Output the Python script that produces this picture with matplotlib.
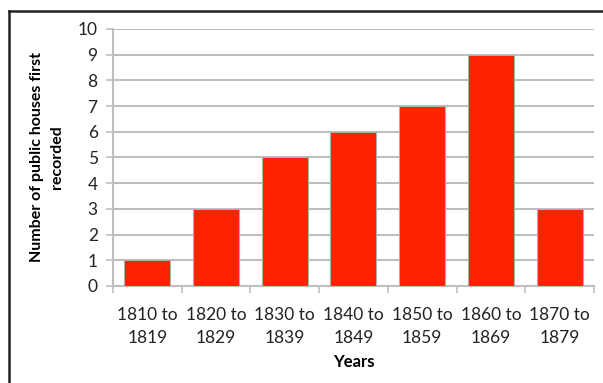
import matplotlib
matplotlib.use('Agg')
import matplotlib.pyplot as plt
import numpy as np

# decades and count of pubs first recorded in each
periods = ['1810 to\n1819', '1820 to\n1829', '1830 to\n1839', '1840 to\n1849',
           '1850 to\n1859', '1860 to\n1869', '1870 to\n1879']
counts = [1, 3, 5, 6, 7, 9, 3]
yticks = list(range(0, 11))

plt.rcParams['font.family'] = ['Lato', 'DejaVu Sans']

fig = plt.figure(figsize=(6.03, 3.83), dpi=100)
ax = fig.add_axes([0.1874, 0.2533, 0.7976, 0.6710])

x = np.arange(len(counts))
ax.bar(x, counts, width=0.67, color='#ff2200', edgecolor='#b0b0b0',
       linewidth=0.8, zorder=3)

ax.set_xlim(-0.5, len(counts) - 0.5)
ax.set_ylim(0, 10)
ax.set_yticks(yticks)
ax.yaxis.grid(True, color='#bfbfbf', linewidth=1.5, zorder=0)

# ticks on category boundaries, labels at centres
ax.set_xticks(np.arange(-0.5, len(counts)), minor=False)
ax.set_xticklabels([])
ax.set_xticks(x, minor=True)
ax.set_xticklabels(periods, minor=True, fontsize=12.5, color='#222222',
                   linespacing=1.55)
ax.tick_params(axis='x', which='minor', length=0, pad=15)
ax.tick_params(axis='x', which='major', length=5, width=1.2, color='#bfbfbf')
ax.tick_params(axis='y', length=5, width=1.2, color='#bfbfbf',
               labelsize=12.5, labelcolor='#222222', pad=6)

for side in ['top', 'right']:
    ax.spines[side].set_visible(False)
for side in ['left', 'bottom']:
    ax.spines[side].set_color('#bfbfbf')
    ax.spines[side].set_linewidth(1.5)

ax.set_xlabel('Years', fontsize=12, fontweight='bold', labelpad=6)
ax.set_ylabel('Number of public houses first\nrecorded', fontsize=11.5,
              fontweight='bold', labelpad=10, linespacing=1.5)

# chart border (top and left edges visible)
fig.add_artist(plt.Line2D([9 / 603, 1.0], [1 - 11 / 383, 1 - 11 / 383],
                          transform=fig.transFigure, color='#222222', linewidth=1.8))
fig.add_artist(plt.Line2D([9 / 603, 9 / 603], [0, 1 - 11 / 383],
                          transform=fig.transFigure, color='#222222', linewidth=1.8))

plt.savefig('out.png', dpi=100)
